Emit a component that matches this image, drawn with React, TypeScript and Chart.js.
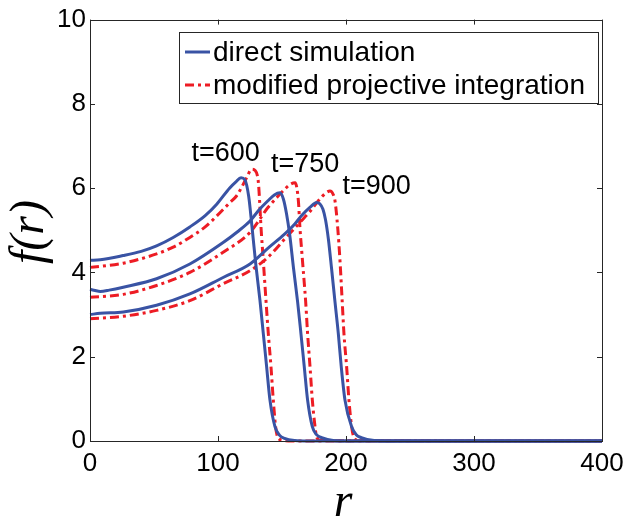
import React, { useEffect, useRef } from 'react';
import { Chart, registerables } from 'chart.js';

Chart.register(...registerables);

// ---- data ----
const rDirect600 = [0, 8, 26, 40, 52, 65, 78, 90, 99, 109, 114, 118, 121, 124, 126.5, 129.5, 132.8, 135.4, 138, 140.6, 144.5, 148, 152, 160, 170, 400];
const fDirect600 = [4.29, 4.3, 4.4, 4.5, 4.63, 4.83, 5.08, 5.35, 5.62, 6.0, 6.15, 6.25, 6.2, 5.8, 5.1, 4.2, 3.33, 2.55, 1.76, 0.97, 0.34, 0.14, 0.06, 0.01, 0, 0];

const rDirect750 = [0, 4, 8, 15, 26, 52, 78, 104, 115, 125, 132, 139, 144, 148.4, 151, 153.5, 156, 159, 162.2, 164.8, 167.4, 170, 173.7, 177, 181, 190, 200, 400];
const fDirect750 = [3.6, 3.57, 3.55, 3.58, 3.65, 3.85, 4.2, 4.71, 4.96, 5.22, 5.48, 5.7, 5.84, 5.89, 5.75, 5.4, 4.9, 4.1, 3.3, 2.55, 1.76, 0.97, 0.34, 0.15, 0.08, 0.01, 0, 0];

const rDirect900 = [0, 8, 26, 52, 78, 104, 125, 140, 152, 160, 165, 172, 177, 179.5, 182, 184, 186.2, 188.7, 191.4, 194, 196.3, 199.2, 204.4, 208, 212, 222, 230, 400];
const fDirect900 = [3.0, 3.03, 3.06, 3.22, 3.49, 3.88, 4.2, 4.6, 4.91, 5.15, 5.34, 5.55, 5.66, 5.63, 5.5, 5.25, 4.8, 4.1, 3.3, 2.55, 1.76, 0.97, 0.34, 0.15, 0.08, 0.01, 0, 0];

const rProj600 = [0, 26, 52, 65, 78, 90, 99, 109, 114.6, 119, 122.4, 126.3, 129, 131.5, 132.5, 133.6, 135.4, 137.5, 139.3, 141.4, 143.2, 145, 146.5, 150, 155, 400];
const fProj600 = [4.12, 4.22, 4.44, 4.6, 4.83, 5.08, 5.34, 5.65, 5.82, 6.05, 6.25, 6.45, 6.42, 6.15, 5.7, 5.07, 4.28, 3.33, 2.55, 1.76, 0.97, 0.34, 0.1, 0.02, 0, 0];

const rProj750 = [0, 26, 52, 78, 104, 125, 139, 146, 152, 157, 160.2, 162.8, 164, 166, 168.5, 170, 171.9, 173.7, 175.8, 177, 180, 400];
const fProj750 = [3.41, 3.48, 3.69, 4.0, 4.48, 4.95, 5.54, 5.78, 5.97, 6.1, 6.13, 5.7, 5.07, 4.28, 3.3, 2.55, 1.76, 0.97, 0.34, 0.1, 0.01, 0];

const rProj900 = [0, 26, 52, 78, 104, 125, 139, 152, 165, 172, 178.4, 184, 187.5, 190, 191.4, 193.5, 195.3, 197, 198.4, 200.5, 202.3, 204.4, 206, 210, 400];
const fProj900 = [2.9, 2.96, 3.1, 3.33, 3.73, 4.04, 4.36, 4.79, 5.22, 5.45, 5.7, 5.88, 5.93, 5.85, 5.7, 5.07, 4.28, 3.33, 2.55, 1.76, 0.97, 0.34, 0.1, 0.01, 0];

const xTicks = [0, 100, 200, 300, 400];
const yTicks = [0, 2, 4, 6, 8, 10];

const timeLabels = ['t=600', 't=750', 't=900'];
const timeLabelR = [106, 168, 224];
const timeLabelF = [6.83, 6.55, 6.05];

const legendLabels = ['direct simulation', 'modified projective integration'];

const BLUE = '#3953a4';
const RED = '#ed1c24';
const SANS = "'Liberation Sans', Arial, Helvetica, sans-serif";
const SERIF = "'Liberation Serif', 'Times New Roman', serif";
const DASH = [9, 4, 3, 4];

function pts(r: number[], f: number[]) {
  return r.map((v, i) => ({ x: v, y: f[i] }));
}

const framePlugin = {
  id: 'frame',
  afterDraw(chart: any) {
    const { ctx, chartArea } = chart;
    const xs = chart.scales.x;
    const ys = chart.scales.y;
    const { left, right, top, bottom } = chartArea;
    ctx.save();
    // box
    ctx.strokeStyle = '#262626';
    ctx.lineWidth = 1;
    ctx.strokeRect(Math.round(left) + 0.5, Math.round(top) + 0.5, Math.round(right - left), Math.round(bottom - top));
    // inward ticks
    ctx.beginPath();
    const tl = 5;
    xTicks.forEach((v) => {
      const px = Math.round(xs.getPixelForValue(v)) + 0.5;
      ctx.moveTo(px, bottom);
      ctx.lineTo(px, bottom - tl);
      ctx.moveTo(px, top);
      ctx.lineTo(px, top + tl);
    });
    yTicks.forEach((v) => {
      const py = Math.round(ys.getPixelForValue(v)) + 0.5;
      ctx.moveTo(left, py);
      ctx.lineTo(left + tl, py);
      ctx.moveTo(right, py);
      ctx.lineTo(right - tl, py);
    });
    ctx.stroke();

    // time labels
    ctx.fillStyle = '#000';
    ctx.font = `27px ${SANS}`;
    ctx.textAlign = 'center';
    ctx.textBaseline = 'middle';
    timeLabels.forEach((t, i) => {
      ctx.fillText(t, xs.getPixelForValue(timeLabelR[i]), ys.getPixelForValue(timeLabelF[i]));
    });

    // legend
    const bx = 179.5, by = 32.5, bw = 419, bh = 71;
    ctx.fillStyle = '#fff';
    ctx.fillRect(bx, by, bw, bh);
    ctx.strokeStyle = '#262626';
    ctx.lineWidth = 1;
    ctx.strokeRect(bx, by, bw, bh);
    const rowY = [52, 85];
    ctx.lineWidth = 3;
    ctx.strokeStyle = BLUE;
    ctx.setLineDash([]);
    ctx.beginPath();
    ctx.moveTo(185, rowY[0]);
    ctx.lineTo(210, rowY[0]);
    ctx.stroke();
    ctx.strokeStyle = RED;
    ctx.setLineDash(DASH);
    ctx.beginPath();
    ctx.moveTo(185, rowY[1]);
    ctx.lineTo(210, rowY[1]);
    ctx.stroke();
    ctx.setLineDash([]);
    ctx.fillStyle = '#000';
    ctx.font = `28px ${SANS}`;
    ctx.textAlign = 'left';
    ctx.textBaseline = 'middle';
    legendLabels.forEach((l, i) => ctx.fillText(l, 213, rowY[i] + 1));

    // axis titles
    ctx.font = `italic 48px ${SERIF}`;
    ctx.textAlign = 'center';
    ctx.textBaseline = 'middle';
    ctx.fillText('r', (left + right) / 2 - 3, 503);
    ctx.save();
    ctx.translate(30, 232);
    ctx.rotate(-Math.PI / 2);
    ctx.fillText('f(r)', 0, 0);
    ctx.restore();
    ctx.restore();
  },
};

export default function App() {
  const ref = useRef<HTMLCanvasElement | null>(null);

  useEffect(() => {
    document.body.style.margin = '0';
    const canvas = ref.current;
    if (!canvas) return;
    const blue = {
      borderColor: BLUE,
      backgroundColor: BLUE,
      borderWidth: 3,
      pointRadius: 0,
      cubicInterpolationMode: 'monotone' as const,
      fill: false,
      clip: false as const,
      order: 1,
    };
    const red = {
      borderColor: RED,
      backgroundColor: RED,
      borderWidth: 3,
      borderDash: DASH,
      pointRadius: 0,
      cubicInterpolationMode: 'monotone' as const,
      fill: false,
      clip: false as const,
      order: 2,
    };
    const chart = new Chart(canvas, {
      type: 'line',
      data: {
        datasets: [
          { label: 'direct simulation t=600', data: pts(rDirect600, fDirect600), ...blue },
          { label: 'direct simulation t=750', data: pts(rDirect750, fDirect750), ...blue },
          { label: 'direct simulation t=900', data: pts(rDirect900, fDirect900), ...blue },
          { label: 'modified projective integration t=600', data: pts(rProj600, fProj600), ...red },
          { label: 'modified projective integration t=750', data: pts(rProj750, fProj750), ...red },
          { label: 'modified projective integration t=900', data: pts(rProj900, fProj900), ...red },
        ],
      },
      options: {
        responsive: false,
        animation: false,
        events: [],
        layout: { padding: { top: 18, right: 33, left: 0, bottom: 0 } },
        plugins: { legend: { display: false }, tooltip: { enabled: false } },
        scales: {
          x: {
            type: 'linear',
            min: 0,
            max: 400,
            afterBuildTicks: (s: any) => { s.ticks = xTicks.map((v) => ({ value: v })); },
            afterFit: (s: any) => { s.height = 89; },
            grid: { display: false, drawTicks: false },
            border: { display: false },
            ticks: { color: '#000', font: { family: SANS, size: 26 }, padding: 7, maxRotation: 0 },
          },
          y: {
            type: 'linear',
            min: 0,
            max: 10,
            afterBuildTicks: (s: any) => { s.ticks = yTicks.map((v) => ({ value: v })); },
            afterFit: (s: any) => { s.width = 90; },
            grid: { display: false, drawTicks: false },
            border: { display: false },
            ticks: { color: '#000', font: { family: SANS, size: 26 }, padding: 4 },
          },
        },
      },
      plugins: [framePlugin],
    });
    return () => chart.destroy();
  }, []);

  return (
    <div style={{ width: 635, height: 530, background: '#fff' }}>
      <canvas ref={ref} width={635} height={530} style={{ display: 'block' }} />
    </div>
  );
}
